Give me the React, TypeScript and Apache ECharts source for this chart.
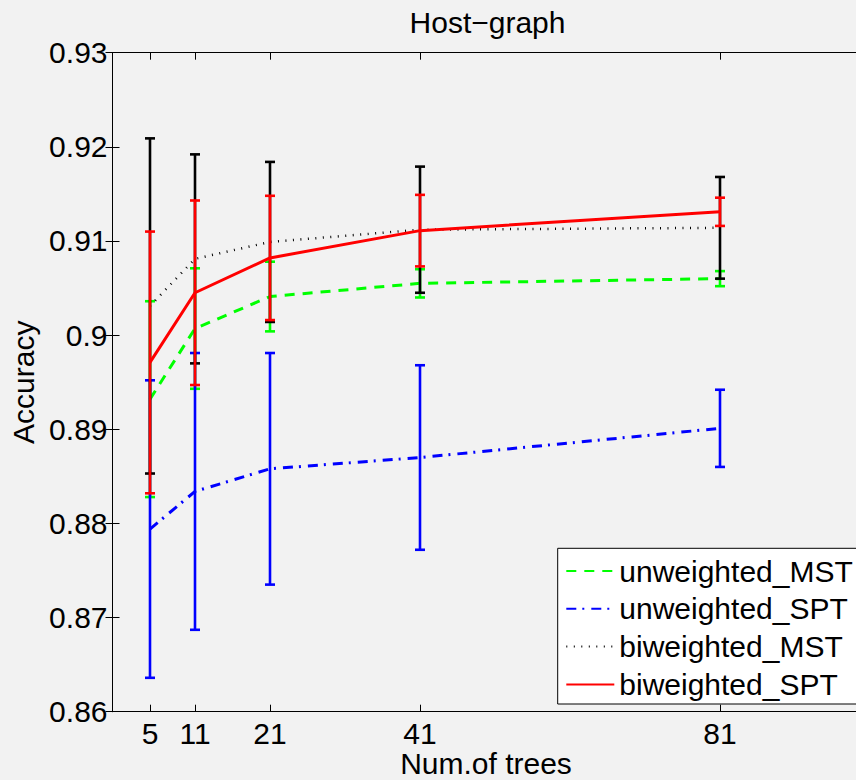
import React, { useEffect, useRef } from "react";
import * as echarts from "echarts";

const xValues = [5, 11, 21, 41, 81];
const xTickValues = [5, 11, 21, 41, 81];
const seriesNames = ["unweighted_MST", "unweighted_SPT", "biweighted_MST", "biweighted_SPT"];
const umstMean = [0.8932, 0.9007, 0.9041, 0.9055, 0.906];
const umstErr = [0.0104, 0.0064, 0.0037, 0.0015, 0.0008];
const usptMean = [0.8794, 0.8834, 0.8858, 0.887, 0.8901];
const usptErr = [0.0158, 0.0147, 0.0123, 0.0098, 0.0041];
const bmstMean = [0.9031, 0.9081, 0.9099, 0.9112, 0.9114];
const bmstErr = [0.0178, 0.0111, 0.0085, 0.0067, 0.0054];
const bsptMean = [0.8971, 0.9045, 0.9082, 0.9111, 0.9131];
const bsptErr = [0.0139, 0.0098, 0.0066, 0.0038, 0.0015];

const FONT = "'Liberation Sans', Arial, Helvetica, sans-serif";
const FS = 30;
const LFS = 30;

function makeSeries(name: string, means: number[], errs: number[], color: string, lineType: any, lineWidth: number, z: number) {
  const errData = xValues.map((x, i) => [x, means[i], errs[i]]);
  const lineData = xValues.map((x, i) => [x, means[i]]);
  return [
    {
      type: "custom",
      name: name + "_err",
      coordinateSystem: "cartesian2d",
      data: errData,
      encode: { x: 0, y: 1 },
      z,
      clip: false,
      silent: true,
      renderItem: (params: any, api: any) => {
        const x = api.value(0);
        const m = api.value(1);
        const e = api.value(2);
        const top = api.coord([x, m + e]);
        const bot = api.coord([x, m - e]);
        const style = { stroke: color, lineWidth: 2.6, fill: null };
        const hw = 5;
        return {
          type: "group",
          children: [
            { type: "line", shape: { x1: top[0], y1: top[1], x2: bot[0], y2: bot[1] }, style },
            { type: "line", shape: { x1: top[0] - hw, y1: top[1], x2: top[0] + hw, y2: top[1] }, style },
            { type: "line", shape: { x1: bot[0] - hw, y1: bot[1], x2: bot[0] + hw, y2: bot[1] }, style },
          ],
        };
      },
    },
    {
      type: "line",
      name,
      data: lineData,
      symbol: "none",
      showSymbol: false,
      z,
      lineStyle: { color, width: lineWidth, type: lineType, cap: "butt" },
      itemStyle: { color },
    },
  ];
}

export default function App() {
  const ref = useRef<HTMLDivElement>(null);
  useEffect(() => {
    document.body.style.margin = "0";
    const chart = echarts.init(ref.current!, null, { renderer: "svg" });
    const axisLine = { show: true, lineStyle: { color: "#000", width: 1 } };
    const textEl = (text: string, x: number, y: number) => ({
      type: "text",
      x,
      y,
      style: {
        text,
        fill: "#000",
        font: `${FS}px ${FONT}`,
        align: "center",
        verticalAlign: "middle",
        textAlign: "center",
        textVerticalAlign: "middle",
      },
    });
    const option: any = {
      animation: false,
      backgroundColor: "#f2f2f2",
      textStyle: { fontFamily: FONT },
      graphic: [textEl("Host−graph", 487.5, 22), textEl("Num.of trees", 486, 763)],
      grid: { left: 112.5, top: 52.7, width: 750, height: 659, containLabel: false, outerBoundsMode: "none" },
      legend: {
        orient: "vertical",
        left: 557.7,
        top: 548.3,
        data: seriesNames,
        backgroundColor: "#ffffff",
        borderColor: "#000",
        borderWidth: 1,
        borderRadius: 0,
        padding: [7.7, 12, 4.6, 7.6],
        itemWidth: 48,
        itemHeight: 14,
        itemGap: 7.8,
        selectedMode: false,
        itemStyle: { opacity: 0 },
        textStyle: { fontSize: LFS, color: "#000", fontFamily: FONT, lineHeight: 30 },
      },
      xAxis: [
        {
          type: "value",
          min: 0,
          max: 100,
          position: "bottom",
          axisLine,
          splitLine: { show: false },
          axisTick: { show: true, inside: true, length: 7, lineStyle: { color: "#000" }, customValues: xTickValues },
          axisLabel: { show: true, fontSize: FS, color: "#000", margin: 7, fontFamily: FONT, customValues: xTickValues },
        },
        {
          type: "value",
          min: 0,
          max: 100,
          position: "top",
          axisLine,
          splitLine: { show: false },
          axisTick: { show: true, inside: true, length: 7, lineStyle: { color: "#000" }, customValues: xTickValues },
          axisLabel: { show: false },
        },
      ],
      yAxis: [
        {
          type: "value",
          min: 0.86,
          max: 0.93,
          interval: 0.01,
          position: "left",
          name: "Accuracy",
          nameLocation: "middle",
          nameGap: 74,
          nameRotate: 90,
          nameTextStyle: { fontSize: FS, color: "#000", fontFamily: FONT },
          axisLine,
          splitLine: { show: false },
          axisTick: { show: true, inside: true, length: 7, lineStyle: { color: "#000" } },
          axisLabel: {
            show: true,
            fontSize: FS,
            color: "#000",
            margin: 5,
            fontFamily: FONT,
            formatter: (v: number) => String(parseFloat(v.toFixed(2))),
          },
        },
        {
          type: "value",
          min: 0.86,
          max: 0.93,
          interval: 0.01,
          position: "right",
          axisLine,
          splitLine: { show: false },
          axisTick: { show: true, inside: true, length: 7, lineStyle: { color: "#000" } },
          axisLabel: { show: false },
        },
      ],
      series: [
        ...makeSeries(seriesNames[0], umstMean, umstErr, "#00ff00", [10, 8], 3, 2),
        ...makeSeries(seriesNames[1], usptMean, usptErr, "#0000ff", [10, 6, 2, 7], 3, 3),
        ...makeSeries(seriesNames[2], bmstMean, bmstErr, "#000000", [1, 6.5], 2.5, 4),
        ...makeSeries(seriesNames[3], bsptMean, bsptErr, "#ff0000", "solid", 3, 5),
      ],
    };
    chart.setOption(option);
    return () => chart.dispose();
  }, []);
  return <div ref={ref} style={{ width: 856, height: 780 }} />;
}
